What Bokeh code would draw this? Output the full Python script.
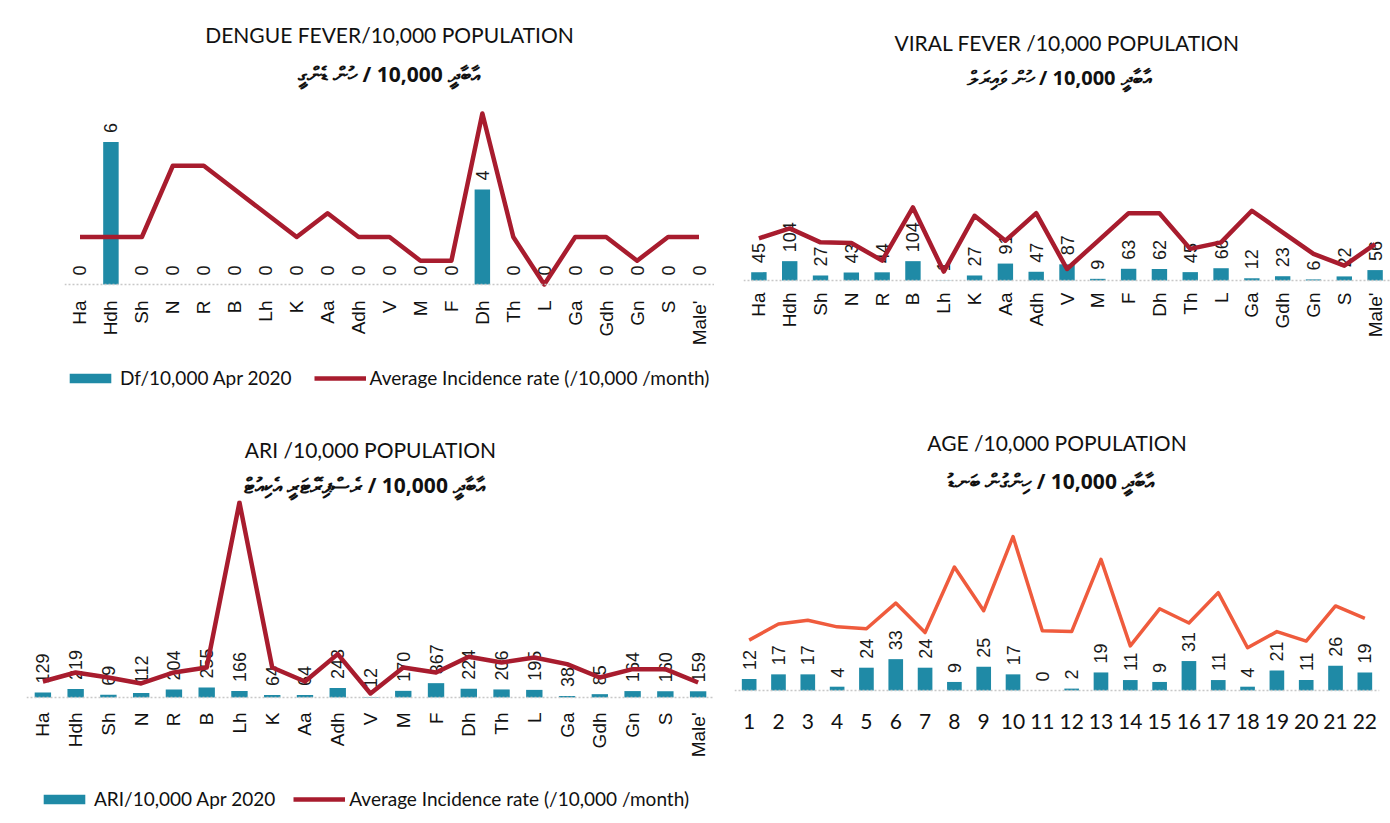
import numpy as np
from bokeh.plotting import figure
from bokeh.models import (ColumnDataSource, FactorRange, Range1d, Legend, LegendItem,
                          Title, Span)
from bokeh.layouts import column, row
from bokeh.embed import file_html
from bokeh.resources import INLINE

# ---------------- data ----------------
atolls = ["Ha", "Hdh", "Sh", "N", "R", "B", "Lh", "K", "Aa", "Adh", "V", "M",
          "F", "Dh", "Th", "L", "Ga", "Gdh", "Gn", "S", "Male'"]

df_apr = [0, 6, 0, 0, 0, 0, 0, 0, 0, 0, 0, 0, 0, 4, 0, 0, 0, 0, 0, 0, 0]
df_avg = [2, 2, 2, 5, 5, 4, 3, 2, 3, 2, 2, 1, 1, 7.2, 2, 0, 2, 2, 1, 2, 2]

vf_apr = [45, 104, 27, 43, 44, 104, 1, 27, 91, 47, 87, 9, 63, 62, 45, 66, 12, 23, 6, 22, 56]
vf_avg = [227, 280, 205, 202, 107, 393, 48, 348, 214, 362, 62, 212, 362, 362, 170, 205,
          375, 259, 143, 80, 196]

ari_apr = [129, 219, 69, 112, 204, 255, 166, 64, 64, 243, 12, 170, 367, 224, 206, 195,
           38, 85, 164, 160, 159]
ari_avg = [410, 641, 513, 359, 641, 769, 5000, 769, 410, 1111, 103, 769, 641, 1043, 897,
           1026, 855, 513, 726, 726, 385]

age_groups = ["1", "2", "3", "4", "5", "6", "7", "8", "9", "10", "11", "12", "13", "14",
              "15", "16", "17", "18", "19", "20", "21", "22"]
age_apr = [12, 17, 17, 4, 24, 33, 24, 9, 25, 17, 0, 2, 19, 11, 9, 31, 11, 4, 21, 11, 26, 19]
age_avg = [53, 70, 74, 67, 65, 92, 61, 130, 84, 162, 63, 62, 138, 47, 86, 71, 103, 45,
           62, 52, 89, 76]

avg_label = "Average Incidence rate (/10,000 /month)"

TEAL = "#1f8aa6"
RED = "#a81c2e"
ORANGE = "#ef5b3d"
TITLE_FONT = "Lato"
LABEL_FONT = "Liberation Sans"


def panel(cats, bars, avg, ymin, ymax, title, thaana, bar_name, line_color, line_w,
          FW, FH, fl, fr, ft, s1, s2, title_size, thaana_size, legend_size,
          leg_x, leg_y, leg_spacing, vertical=True, tick_size="19px", tick_offset=14):
    p = figure(x_range=FactorRange(factors=cats), y_range=Range1d(ymin, ymax),
               frame_width=FW, frame_height=FH, output_backend="svg",
               toolbar_location=None, x_axis_location=None, y_axis_location=None,
               min_border_left=fl, min_border_right=fr,
               min_border_top=ft, min_border_bottom=0)
    p.background_fill_color = "white"
    p.border_fill_color = "white"
    p.outline_line_color = None
    p.xgrid.visible = False
    p.ygrid.visible = False

    src = ColumnDataSource(dict(x=cats, bar=bars, avg=avg, base=[0] * len(cats),
                                lbl=[str(v) for v in bars]))

    # dotted category baseline
    p.add_layout(Span(location=0, dimension="width", line_color="#c8c8c8",
                      line_dash="2 2", line_width=1.5))

    r_bar = p.vbar(x="x", top="bar", width=0.5, source=src,
                   fill_color=TEAL, line_color=None)
    # value labels above the bars
    p.text(x="x", y="bar", text="lbl", source=src, angle=np.pi / 2,
           text_align="left", text_baseline="middle", y_offset=-9,
           text_font_size="18px", text_color="#1a1a1a",
           text_font={"value": LABEL_FONT})
    # category labels under the baseline
    if vertical:
        p.text(x="x", y="base", text="x", source=src, angle=np.pi / 2,
               text_align="right", text_baseline="middle", y_offset=tick_offset,
               text_font_size=tick_size, text_color="#111111",
               text_font={"value": LABEL_FONT})
    else:
        p.text(x="x", y="base", text="x", source=src, angle=0,
               text_align="center", text_baseline="middle", y_offset=tick_offset,
               text_font_size=tick_size, text_color="#111111",
               text_font={"value": TITLE_FONT})
    r_line = p.line(x="x", y="avg", source=src, line_color=line_color,
                    line_width=line_w, line_join="round")

    # titles: first added sits closest to the plot area
    p.add_layout(Title(text=thaana, align="center", text_font="Noto Sans",
                       text_font_size=thaana_size, text_font_style="bold",
                       text_color="#111111", standoff=s1), "above")
    p.add_layout(Title(text=title, align="center", text_font=TITLE_FONT,
                       text_font_size=title_size, text_font_style="normal",
                       text_color="#111111", standoff=s2), "above")

    legend = Legend(items=[LegendItem(label=bar_name, renderers=[r_bar]),
                           LegendItem(label=avg_label, renderers=[r_line])],
                    orientation="horizontal", location=(leg_x, leg_y),
                    glyph_width=52, glyph_height=12, label_standoff=4,
                    spacing=leg_spacing, padding=0, margin=0,
                    border_line_color=None, background_fill_alpha=0,
                    label_text_font=TITLE_FONT, label_text_font_size=legend_size,
                    label_text_color="#111111")
    p.add_layout(legend)
    return p


p1 = panel(atolls, df_apr, df_avg, -5.221, 8, "DENGUE FEVER/10,000 POPULATION",
           "އާބާދީ 10,000 / ހުން ޑެންގީ", "Df/10,000 Apr 2020", RED, 4.5,
           650, 314, 64, 0, 94, 14, 8, "21px", "21px", "19px",
           0, 19, 22, tick_offset=16)
p2 = panel(atolls, vf_apr, vf_avg, -698.9, 1000, "VIRAL FEVER /10,000 POPULATION",
           "އާބާދީ 10,000    / ހުން ވައިރަލް", "VF/10,000 Apr 2020", RED, 4.5,
           647, 316, 29, 0, 92, 7, 8, "21px", "20px", "18px",
           27, 26, 5, tick_offset=12)
p3 = panel(atolls, ari_apr, ari_avg, -3230.8, 5050, "ARI /10,000 POPULATION",
           "އާބާދީ 10,000   / ރެސްޕިރޭޓަރީ އެކިއުޓް", "ARI/10,000 Apr 2020", RED, 4.5,
           688, 323, 26, 0, 92, 4, 9, "21px", "21px", "19px",
           12, 13, 18, tick_offset=15)
p4 = panel(age_groups, age_apr, age_avg, -141.05, 200, "AGE /10,000 POPULATION",
           "އާބާދީ 10,000   / ހިންގުން ބަނޑު", "AGE/10,000 Apr 2020", ORANGE, 3.5,
           645, 324, 20, 11, 91, 11, 10, "21px", "21px", "17px",
           20, 26, 14, vertical=False, tick_size="21px", tick_offset=31)

page = column(row(p1, p2), row(p3, p4))
open("out.html", "w").write(file_html(page, INLINE))
